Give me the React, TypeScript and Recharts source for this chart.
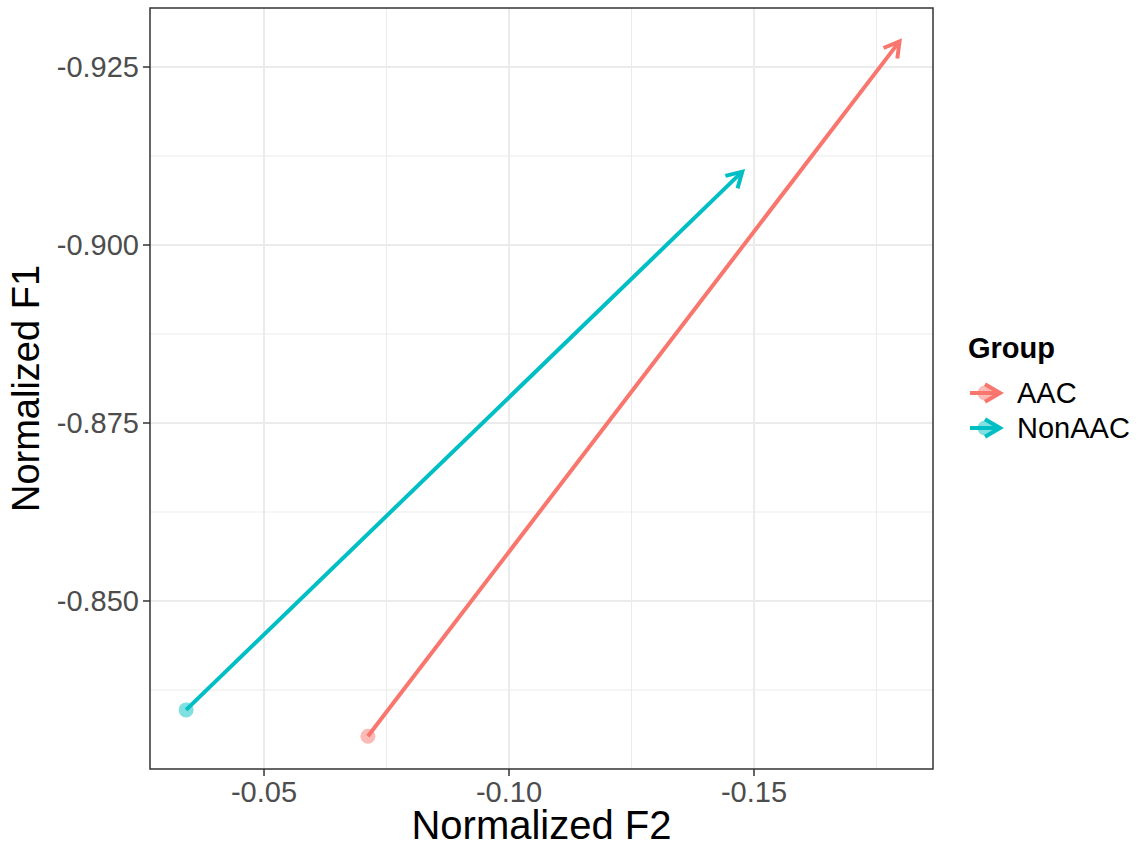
import React from 'react';
import { ComposedChart, Line, XAxis, YAxis, CartesianGrid, ReferenceArea } from 'recharts';

const groups = ['AAC', 'NonAAC'];
const groupColors = ['#F8766D', '#00BFC4'];
const aacF2 = [-0.0712, -0.1797];
const aacF1 = [-0.831, -0.9286];
const nonAacF2 = [-0.0341, -0.1476];
const nonAacF1 = [-0.8347, -0.9103];
const xTicks = [-0.05, -0.1, -0.15];
const yTicks = [-0.925, -0.9, -0.875, -0.85];
const xMinor = [-0.075, -0.125, -0.175];
const yMinor = [-0.9125, -0.8875, -0.8625, -0.8375];
const xDomain = [-0.18653, -0.02673];
const yDomain = [-0.93329, -0.8264];

const FONT = '"Liberation Sans", Arial, Helvetica, sans-serif';

const aacData = aacF2.map((x, i) => ({ f2: x, f1: aacF1[i] }));
const nonAacData = nonAacF2.map((x, i) => ({ f2: x, f1: nonAacF1[i] }));
const seriesData = [aacData, nonAacData];

const startDot = (color: string) => (props: any) => {
  const { cx, cy, index } = props;
  if (index !== 0) return <g key={`e${index}`} />;
  return <circle key={`d${index}`} cx={cx} cy={cy} r={7.5} fill={color} fillOpacity={0.5} stroke="none" />;
};

const XTitle = (props: any) => {
  const vb = props.viewBox || {};
  return (
    <text x={vb.x + vb.width / 2} y={839} textAnchor="middle" fontSize={40} fill="#000" fontFamily={FONT}>
      Normalized F2
    </text>
  );
};

const YTitle = (props: any) => {
  const vb = props.viewBox || {};
  const cy = vb.y + vb.height / 2;
  return (
    <text x={39} y={cy} transform={`rotate(-90 39 ${cy})`} textAnchor="middle" fontSize={38} fill="#000" fontFamily={FONT}>
      Normalized F1
    </text>
  );
};

export default function App() {
  return (
    <div style={{ position: 'absolute', left: 0, top: 0, width: 1143, height: 846, background: '#fff', fontFamily: FONT }}>
      <svg width={0} height={0} style={{ position: 'absolute' }}>
        <defs>
          {groups.map((g, i) => (
            <marker
              key={g}
              id={`arrow-${i}`}
              markerUnits="userSpaceOnUse"
              viewBox="-20 -12 24 24"
              markerWidth={24}
              markerHeight={24}
              refX={0}
              refY={0}
              orient="auto"
              style={{ overflow: 'visible' }}
            >
              <path d="M -15 -8.7 L 0 0 L -15 8.7" fill="none" stroke={groupColors[i]} strokeWidth={4} strokeLinejoin="miter" strokeLinecap="butt" />
            </marker>
          ))}
        </defs>
      </svg>
      <ComposedChart width={1143} height={846} margin={{ top: 8, right: 210, left: 0, bottom: 0 }}>
        <CartesianGrid horizontalValues={yMinor} verticalValues={xMinor} stroke="#EBEBEB" strokeWidth={1} fill="none" />
        <CartesianGrid horizontalValues={yTicks} verticalValues={xTicks} stroke="#EBEBEB" strokeWidth={2} fill="none" />
        <XAxis
          type="number"
          dataKey="f2"
          domain={xDomain}
          allowDataOverflow
          reversed
          ticks={xTicks}
          tickFormatter={(v: number) => v.toFixed(2)}
          height={77}
          tickSize={7}
          tickMargin={5}
          axisLine={false}
          tickLine={{ stroke: '#333333', strokeWidth: 1.5 }}
          tick={{ fontSize: 29, fill: '#4D4D4D', fontFamily: FONT }}
          label={<XTitle />}
        />
        <YAxis
          type="number"
          dataKey="f1"
          domain={yDomain}
          allowDataOverflow
          reversed
          ticks={yTicks}
          tickFormatter={(v: number) => v.toFixed(3)}
          width={150}
          tickSize={7}
          tickMargin={4}
          axisLine={false}
          tickLine={{ stroke: '#333333', strokeWidth: 1.5 }}
          tick={{ fontSize: 29, fill: '#4D4D4D', fontFamily: FONT }}
          label={<YTitle />}
        />
        {groups.map((g, i) => (
          <Line
            key={g}
            name={g}
            data={seriesData[i]}
            dataKey="f1"
            type="linear"
            stroke={groupColors[i]}
            strokeWidth={4}
            dot={startDot(groupColors[i])}
            activeDot={false}
            markerEnd={`url(#arrow-${i})`}
            isAnimationActive={false}
          />
        ))}
        <ReferenceArea
          x1={xDomain[0]}
          x2={xDomain[1]}
          y1={yDomain[0]}
          y2={yDomain[1]}
          fill="none"
          fillOpacity={0}
          stroke="#333333"
          strokeWidth={1.5}
          ifOverflow="visible"
        />
      </ComposedChart>
      <svg width={190} height={130} style={{ position: 'absolute', left: 950, top: 320 }}>
        <text x={18} y={38} fontSize={29} fontWeight="bold" fill="#000" fontFamily={FONT}>Group</text>
        {groups.map((g, i) => {
          const y = 73 + i * 35;
          return (
            <g key={g}>
              <line x1={20} y1={y} x2={50} y2={y} stroke={groupColors[i]} strokeWidth={4} markerEnd={`url(#arrow-${i})`} />
              <circle cx={35} cy={y} r={7.5} fill={groupColors[i]} fillOpacity={0.5} />
              <text x={67} y={y + 10} fontSize={29} fill="#000" fontFamily={FONT}>{g}</text>
            </g>
          );
        })}
      </svg>
    </div>
  );
}
